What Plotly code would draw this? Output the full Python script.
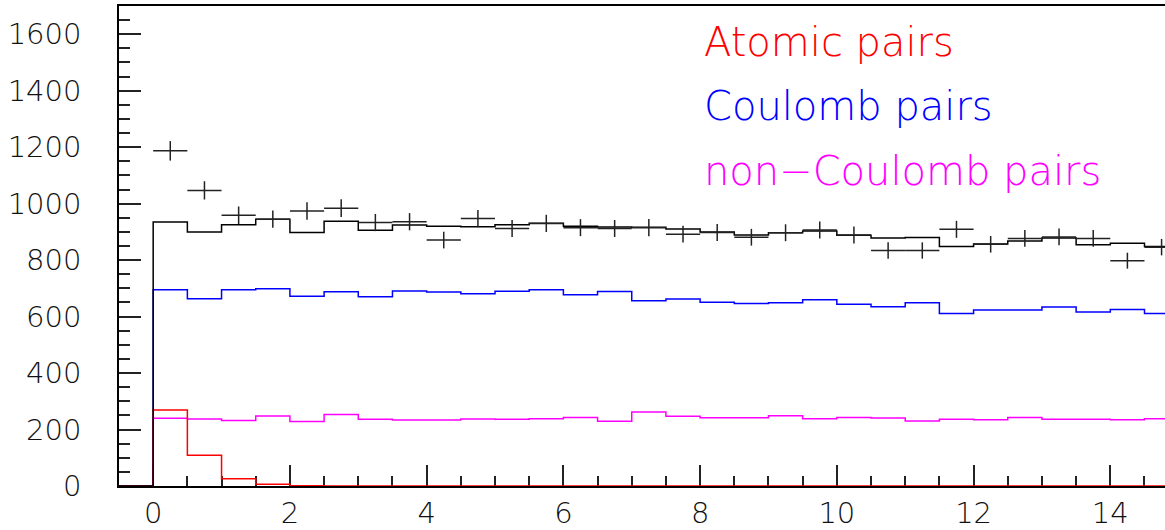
import numpy as np
import plotly.graph_objects as go

# ---- data (bins of width 0.5 from -0.5 to 15; first bin is empty) ----
bin_edges = np.arange(-0.5, 15.01, 0.5)

atomic = [0, 269, 109, 26, 6, 1, 0, 0, 0, 0, 0, 0, 0, 0, 0, 0,
          0, 0, 0, 0, 0, 0, 0, 0, 0, 0, 0, 0, 0, 0, 0]
coulomb = [0, 695, 663, 695, 699, 672, 688, 670, 691, 687, 681,
           690, 695, 677, 689, 656, 662, 651, 646, 649, 660,
           644, 635, 649, 611, 623, 623, 634, 616, 625, 611]
non_coulomb = [0, 240, 237, 232, 248, 228, 253, 236, 234, 234, 237,
               236, 238, 243, 229, 262, 247, 242, 242, 249, 238,
               243, 241, 230, 236, 235, 243, 236, 236, 235, 238]
total_mc = [0, 935, 900, 925, 945, 898, 938, 906, 924, 920, 918,
            925, 931, 920, 917, 916, 910, 900, 889, 897, 903,
            888, 878, 880, 848, 857, 868, 878, 854, 860, 848]

data_x = [0.25, 0.75, 1.25, 1.75, 2.25, 2.75, 3.25, 3.75, 4.25, 4.75,
          5.25, 5.75, 6.25, 6.75, 7.25, 7.75, 8.25, 8.75, 9.25, 9.75,
          10.25, 10.75, 11.25, 11.75, 12.25, 12.75, 13.25, 13.75, 14.25, 14.75]
data_y = [1187, 1047, 959, 945, 974, 984, 933, 936, 871, 947,
          912, 930, 915, 912, 915, 892, 898, 881, 897, 907,
          889, 834, 834, 909, 856, 877, 882, 877, 798, 846]
data_err = [34.5, 32.4, 31.0, 30.7, 31.2, 31.4, 30.5, 30.6, 29.5, 30.8,
            30.2, 30.5, 30.2, 30.2, 30.2, 29.9, 30.0, 29.7, 30.0, 30.1,
            29.8, 28.9, 28.9, 30.1, 29.3, 29.6, 29.7, 29.6, 28.2, 29.1]

labels = ["Atomic pairs", "Coulomb pairs", "non\u2212Coulomb pairs"]
label_colors = ["#ff0000", "#0000ff", "#ff00ff"]

FONT = "DejaVu Sans"


def step_xy(values):
    xs = list(bin_edges)
    ys = list(values) + [values[-1]]
    return xs, ys


fig = go.Figure()

for vals, col in [(non_coulomb, "#ff00ff"), (coulomb, "#0000ff"),
                  (atomic, "#ff0000"), (total_mc, "#000000")]:
    xs, ys = step_xy(vals)
    fig.add_trace(go.Scatter(x=xs, y=ys, mode="lines",
                             line=dict(shape="hv", color=col, width=1.5),
                             hoverinfo="skip", showlegend=False))

fig.add_trace(go.Scatter(
    x=data_x, y=data_y, mode="markers",
    marker=dict(size=1, color="black", opacity=0),
    error_x=dict(type="constant", value=0.25, width=0, thickness=1.5, color="#222"),
    error_y=dict(type="data", array=data_err, width=0, thickness=1.5, color="#222"),
    showlegend=False))

label_y = [0.925, 0.792, 0.656]
for txt, col, yy in zip(labels, label_colors, label_y):
    fig.add_annotation(text=txt, xref="paper", yref="paper",
                       x=0.557, y=yy, xanchor="left", yanchor="middle",
                       showarrow=False,
                       font=dict(family=FONT, size=40, color=col, weight=200))

fig.update_layout(
    width=1165, height=530,
    margin=dict(l=119, r=0, t=6, b=40),
    paper_bgcolor="white", plot_bgcolor="white",
    font=dict(family=FONT, size=29, color="#111", weight=200),
)
fig.update_xaxes(
    range=[-0.5, 14.8], showgrid=False, zeroline=False,
    showline=True, linecolor="black", linewidth=1.5, mirror=True,
    ticks="inside", ticklen=21, tickwidth=1.5, tickcolor="#222",
    dtick=2, tick0=0,
    minor=dict(ticks="inside", ticklen=10, dtick=0.5, tick0=0,
               tickcolor="#222", tickwidth=1.5, showgrid=False),
    layer="below traces",
)
fig.update_yaxes(
    range=[0, 1700], showgrid=False, zeroline=False,
    showline=True, linecolor="black", linewidth=1.5,
    ticks="inside", ticklen=22, tickwidth=1.5, tickcolor="#222",
    dtick=200, tick0=0, ticklabelstandoff=30,
    minor=dict(ticks="inside", ticklen=11, dtick=50, tick0=0,
               tickcolor="#222", tickwidth=1.5, showgrid=False),
    layer="below traces",
)

fig.write_html("out.html")
